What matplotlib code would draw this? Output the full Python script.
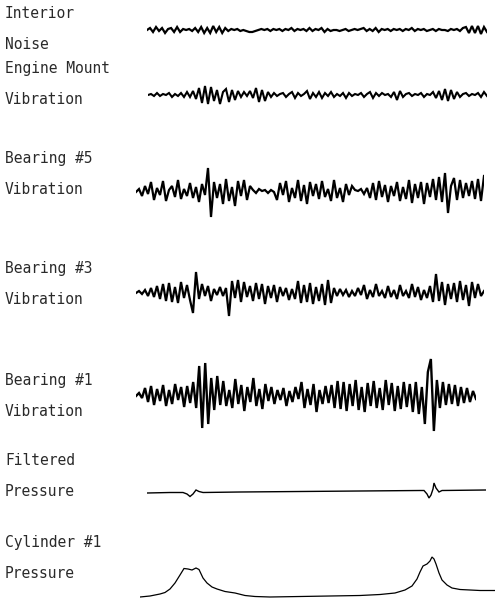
import matplotlib.pyplot as plt
import numpy as np

# channel labels
labels = [
    "Interior\nNoise",
    "Engine Mount\nVibration",
    "Bearing #5\nVibration",
    "Bearing #3\nVibration",
    "Bearing #1\nVibration",
    "Filtered\nPressure",
    "Cylinder #1\nPressure",
]

# traces (amplitude, arbitrary units, up = positive)
interior_noise = [
    0, 2, -2, 3, -1, 2, -3, 1, 2, -2, 3, -2, 1, 0, 1, -1, 2, -2, 3, -3, 2, -3, 4, -2, 3, -3, 2, -1, 1, 0, 1, -1, 0,
    -1, -2, -2, -1, 0, 1, 0, 1, -1, 1, 0, 1, -1, 1, 0, 2, -1, 1,
    0, 1, -1, 2, -1, 1, 0, 2, -2, 1, -1, 0, 0, -1, 0, 1, -1, 0, 1, 0, 1, 2, -1, 1, -1, 2, -2, 1, 0, 1, -1, 1, 0,
    1, -1, 1, 0, 2, -1, 1, 0, 1, -1, 0, 1, -1, 1, 0, 0, -1, 1, 0, 1, -1, 2, 3, -3, 4, -3, 4, -4, 3, -2,
]

engine_mount = [
    0, 1, -1, 2, -1, 1, 0, 2, -2, 1, -1, 2, -2, 3, -2, 4, -4,
    7, -8, 9, -9, 8, -6, 5, -9, 3, 6, -7, 5,
    -5, 4, -2, 3, -1, 4, -3, 7, -7, 5, -6, 3, -2, 2, -1, 1,
    2, -2, 1, 3, -3, 2, -1, 1, 4, -4, 2, -2, 3, -3, 2, -1, 3, -2, 1, -1, 2, -3, 2, -1,
    1, 0, 2, -2, 1, 3, -3, 2, -1, 2, 0, 1, -2, 3, -5, 4, -2, 1, 2, -1, 1, 0, 2, -2, 1, 0, 3, -3, 4, -5,
    6, -6, 5, -4, 3, -2, 1, 2, -1, 1, 0, 2, -2, 3, -1,
]

bearing5 = [
    0, 3, -4, 6, -2, 10, -8, 4, -3, 11, -9, 2, 6, -5, 12, -7, 3, -4, 9, -6, 5, -10, 8, -3,
    24, -25, 10, -6, 8, -12, 13, -9, 5, -14, 11, -4, 12, -8, 6,
    2, -1, 3, 1, 2, -1, 2, 0,
    -8, 9, -3, 11, -10, 4, -6, 12, -9, 7, -12, 10, -4, 8, -7, 11, -5, 3, -9, 12, -6, 4,
    -10, 8, -3, 6, 2, 1, 3, -2, 4, -6,
    9, -8, 11, -5, 7, -10, 6, -4, 10, -9, 5, -7, 12, -11, 8, -6, 10, -12, 9, -5, 13, -8,
    15, -10, 19, -21, 6, 14, -8, 12, -6, 9, -4, 11, -7, 13, -9, 16,
]

bearing3 = [
    0, 2, -1, 3, -3, 5, -4, 7, -6, 9, -8, 10, -9, 6, -10, 11, -5, 8, -7,
    -20, 21, -6, 9, -3, 7, -8, 4, -2, 6, -3, 5, -23, 12, -5, 13, -9, 11, -4, 7,
    -8, 10, -6, 9, -11, 7, -5, 8, -9, 6, -3, 5, -7, 4, -6, 12, -10, 8, -9, 10, -11, 6, -8, 9, -12,
    13, -10, 5, -3, 4, -2, 3, -4, 2, -3, 5,
    -2, 8, -6, 3, -4, 9, -3, 2, -5, 7, -4, 3, -6, 8, -3, 2, -5, 9, -4, 6, -7,
    3, -5, 7, -9, 19, -8, 11, -12, 9, -6, 10, -9, 12, -7, 8, -13, 11, -5, 9, -3, 2,
]

bearing1 = [
    0, 3, -2, 8, -6, 10, -9, 7, -5, 11, -10, 6, -8, 12, -4, 9, -11, 10, -7, 14,
    -12, 30, -32, 33, -28, 18,
    -14, 20, -9, 15, -10, 6, -12, 17, -8, 11, -15, 9, -6, 18, -10, 7, -13, 12, -5, 9,
    -8, 6, -4, 8, -10, 5, -6, 9, -3, 14, -12, 7, -9, 12, -16, 6, -8, 10, -7, 11,
    -12, 15, -13, 14, -15, 12, -10, 16, -14, 9, -16, 13, -10, 15, -12, 8, -14, 16, -9, 13,
    -15, 10, -13, 14, -11, 12, -16, 14, -18, 9,
    -28, 24, 37, -35, 16, -12, 14, -9, 12, -8, 11, -10, 9, -7, 8, -6, 5, -3,
]

# pressure traces are sampled unevenly (time, value)
filt_t = [0, 23, 36, 40, 43, 46, 49, 52, 56, 93, 153, 213, 273, 277, 280, 282, 284, 286, 287, 289, 292, 295, 339]
filt_p = [0, 0.5, 0.5, -1, -3.5, -1, 3, 1.5, 0.5, 1, 1.5, 2, 2.5, 2.5, -1, -5, -2, 4, 10, 5, 1, 2.5, 3]

cyl_t = [0, 10, 20, 25, 30, 35, 40, 44, 48, 52, 56, 59, 63, 67, 72, 77, 85, 95, 105, 115, 130, 160, 190, 220,
         240, 255, 265, 272, 277, 280, 283, 287, 290, 292, 294, 296, 299, 302, 307, 312, 320, 330, 340, 355]
cyl_p = [0, 1, 3, 4.5, 8, 14, 22, 28.5, 28, 27, 29, 27.5, 19, 14, 10, 8, 5.5, 4, 1.5, 0.5, 0, 0.5, 1, 1.5,
         2.5, 4, 7, 11, 18, 25, 31, 33, 36, 40, 38, 33, 24, 17, 12, 9, 7.5, 7, 6.5, 6.5]

W, H = 496, 602
fig = plt.figure(figsize=(W / 100, H / 100), dpi=100)
fig.patch.set_facecolor('white')


def add_trace(t, v, x0, x1, y0, lo, hi, lw):
    # y0 = pixel row of zero level, 1 unit = 1 pixel
    ax = fig.add_axes([x0 / W, (H - (y0 - lo)) / H, (x1 - x0) / W, (hi - lo) / H])
    ax.plot(t, v, color='black', lw=lw, solid_joinstyle='miter')
    ax.set_xlim(t[0], t[-1])
    ax.set_ylim(lo, hi)
    ax.axis('off')
    return ax


add_trace(np.arange(len(interior_noise)), interior_noise, 147, 487, 30, -8, 8, 1.6)
add_trace(np.arange(len(engine_mount)), engine_mount, 148, 487, 95, -12, 12, 1.5)
add_trace(np.arange(len(bearing5)), bearing5, 136, 484, 192, -30, 30, 1.6)
add_trace(np.arange(len(bearing3)), bearing3, 136, 484, 293, -28, 28, 1.6)
add_trace(np.arange(len(bearing1)), bearing1, 136, 476, 396, -40, 40, 1.7)
add_trace(filt_t, filt_p, 147, 486, 493, -10, 14, 1.0)
add_trace(cyl_t, cyl_p, 140, 495, 597, -4, 45, 0.9)

# labels on the left
label_y = [29, 84, 174, 284, 396, 476, 558]
for lab, yy in zip(labels, label_y):
    fig.text(5 / W, 1 - yy / H, lab, family='DejaVu Sans Mono', fontsize=10.5,
             color='#2a2a2a', va='center', ha='left', linespacing=2.3)

fig.savefig('out.png', dpi=100, facecolor='white')
